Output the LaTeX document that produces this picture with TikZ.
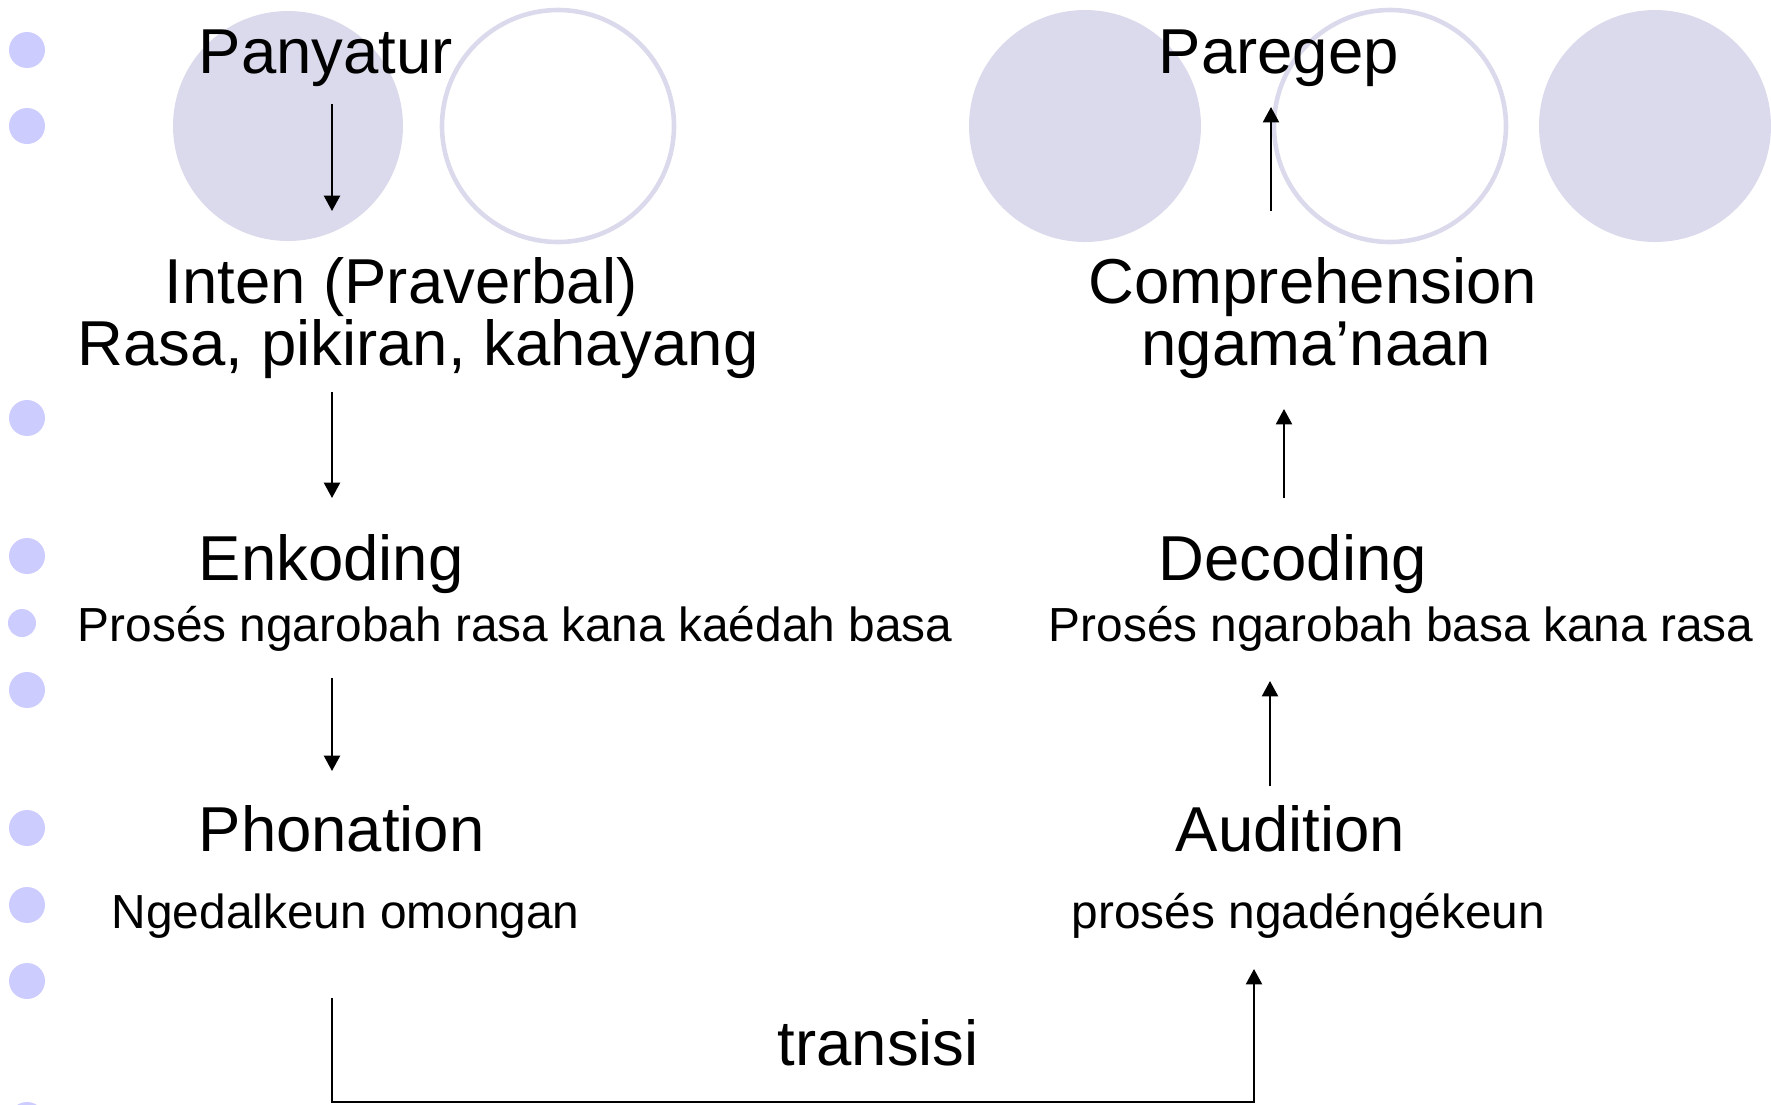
\documentclass[tikz,border=0pt]{standalone}
\usepackage{fontspec}
\setmainfont{Liberation Sans}
\usetikzlibrary{arrows.meta}
\definecolor{lav}{RGB}{218,218,236}
\definecolor{bul}{RGB}{204,204,255}
\tikzset{
  big/.style={anchor=base west,inner sep=0pt,font=\fontsize{18.05}{21}\selectfont},
  mid/.style={anchor=base west,inner sep=0pt,font=\fontsize{13.6}{16}\selectfont},
  arr/.style={line width=0.6pt,-{Triangle[length=4.4pt,width=4.6pt]}},
  disc/.style={fill=lav},
  ring/.style={draw=lav,line width=1.3pt},
  bullet/.style={fill=bul}
}
\begin{document}
\begin{tikzpicture}[x=0.01cm,y=-0.01cm]
\useasboundingbox (0,0) rectangle (1771,1105);
% background circles
\fill[disc] (288,126) circle (115);
\draw[ring] (558,126) circle (116);
\fill[disc] (1085,126) circle (116);
\draw[ring] (1390,126) circle (116);
\fill[disc] (1655,126) circle (116);
% bullets
\foreach \yy in {50,126,418,556,690,828,905,981,1120}
  \fill[bullet] (27,\yy) circle (18);
\fill[bullet] (22,623) circle (14);
% texts
\node[big] (panyatur) at (198,73) {Panyatur};
\node[big] (paregep) at (1158,73) {Paregep};
\node[big] (inten) at (164,303) {Inten (Praverbal)};
\node[big] (rasa) at (77,365) {Rasa, pikiran, kahayang};
\node[big] (compr) at (1088,303) {Comprehension};
\node[big] (ngama) at (1141,365) {ngama’naan};
\node[big] (enk) at (198,580) {Enkoding};
\node[big] (dec) at (1158,580) {Decoding};
\node[mid] (enkd) at (77,641) {Prosés ngarobah rasa kana kaédah basa};
\node[mid] (decd) at (1048,641) {Prosés ngarobah basa kana rasa};
\node[big] (phon) at (198,851) {Phonation};
\node[big] (aud) at (1175,851) {Audition};
\node[mid] (phond) at (111,928) {Ngedalkeun omongan};
\node[mid] (audd) at (1071,928) {prosés ngadéngékeun};
\node[big] (trans) at (777,1065) {transisi};
% arrow end points
\coordinate (a1s) at (332,104);  \coordinate (a1e) at (332,211);
\coordinate (a2s) at (332,392);  \coordinate (a2e) at (332,498);
\coordinate (a3s) at (332,678);  \coordinate (a3e) at (332,771);
\coordinate (b1s) at (1271,211); \coordinate (b1e) at (1271,107);
\coordinate (b2s) at (1284,498); \coordinate (b2e) at (1284,409);
\coordinate (b3s) at (1270,786); \coordinate (b3e) at (1270,681);
\coordinate (ts) at (332,998);   \coordinate (tl) at (332,1102);
\coordinate (tr) at (1254,1102); \coordinate (te) at (1254,969);
% connectors
\draw[arr] (a1s) -- (a1e);
\draw[arr] (a2s) -- (a2e);
\draw[arr] (a3s) -- (a3e);
\draw[arr] (b1s) -- (b1e);
\draw[arr] (b2s) -- (b2e);
\draw[arr] (b3s) -- (b3e);
\draw[arr] (ts) -- (tl) -- (tr) -- (te);
\end{tikzpicture}
\end{document}
